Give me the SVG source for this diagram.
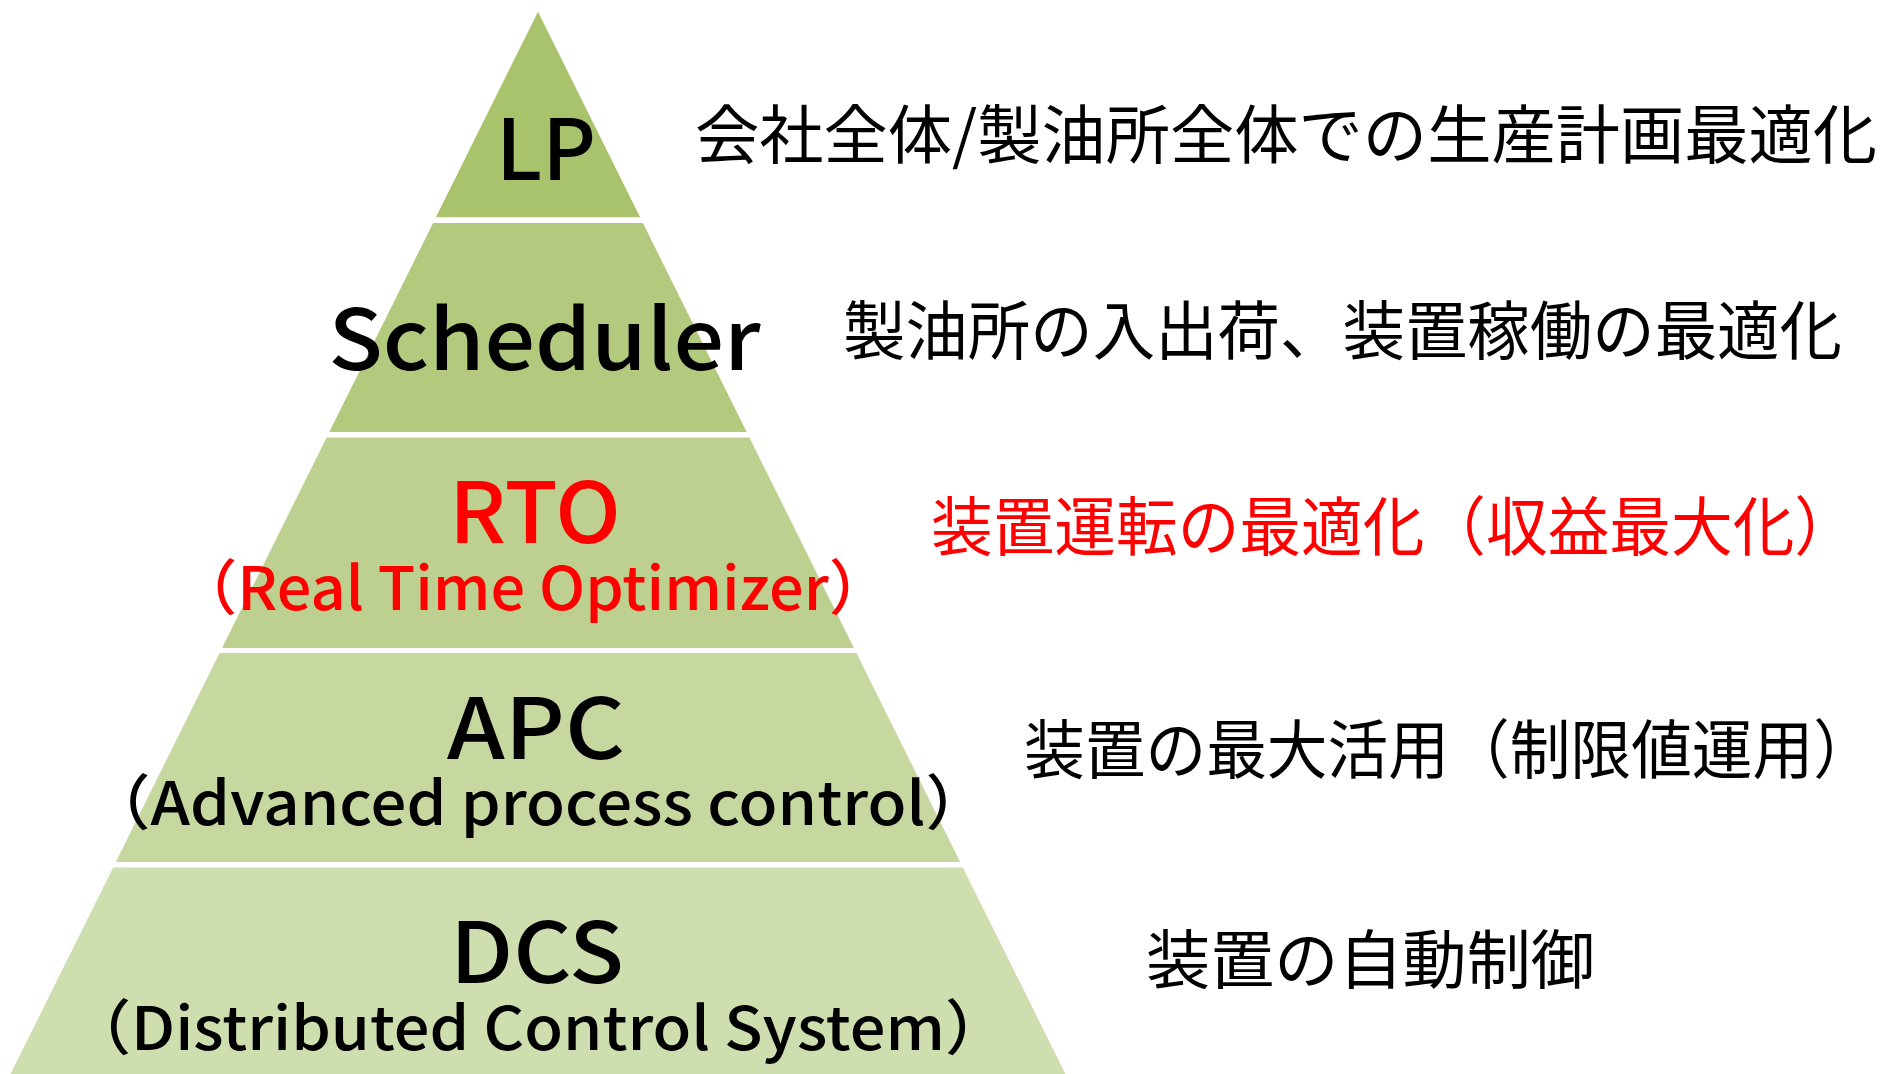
<svg xmlns="http://www.w3.org/2000/svg" width="1885" height="1074" viewBox="0 0 1885 1074">
<style>
.t{font-family:"Noto Sans CJK JP","Noto Sans",sans-serif;fill:#000}
.title{font-size:84px;text-anchor:middle;font-weight:500}
.sub{font-size:60px;text-anchor:middle;font-weight:500}
.desc{font-size:64px}
.red{fill:#FF0000}
</style>
<rect width="1885" height="1074" fill="#FFFFFF"/>
<g id="lp">
<polygon points="538,11.7 640.1,217.3 435.9,217.3" fill="#A9C26C"/>
<text class="t title" x="546" y="180" textLength="100" lengthAdjust="spacingAndGlyphs">LP</text>
<text class="t desc" x="695" y="158" textLength="1182" lengthAdjust="spacingAndGlyphs">会社全体/製油所全体での生産計画最適化</text>
</g>
<g id="scheduler">
<polygon points="433.1,223 642.9,223 746.7,432 329.3,432" fill="#B2C97E"/>
<text class="t title" x="544.5" y="370" textLength="432" lengthAdjust="spacingAndGlyphs">Scheduler</text>
<text class="t desc" x="843" y="354" textLength="999" lengthAdjust="spacingAndGlyphs">製油所の入出荷、装置稼働の最適化</text>
</g>
<g id="rto">
<polygon points="326.6,437.5 749.4,437.5 853.9,648 222.1,648" fill="#BDD08F"/>
<text class="t title red" x="535" y="542.7" textLength="172" lengthAdjust="spacingAndGlyphs">RTO</text>
<text class="t sub red" x="533" y="610" textLength="714" lengthAdjust="spacingAndGlyphs">（Real Time Optimizer）</text>
<text class="t desc red" x="931" y="550" textLength="925" lengthAdjust="spacingAndGlyphs">装置運転の最適化（収益最大化）</text>
</g>
<g id="apc">
<polygon points="219.6,653 856.4,653 960.2,862 115.8,862" fill="#C6D79F"/>
<text class="t title" x="536" y="759" textLength="178" lengthAdjust="spacingAndGlyphs">APC</text>
<text class="t sub" x="538" y="825" textLength="902" lengthAdjust="spacingAndGlyphs">（Advanced process control）</text>
<text class="t desc" x="1024" y="773" textLength="850" lengthAdjust="spacingAndGlyphs">装置の最大活用（制限値運用）</text>
</g>
<g id="dcs">
<polygon points="113.1,867.5 962.9,867.5 1065.5,1074 10.5,1074" fill="#CFDEAF"/>
<text class="t title" x="537" y="983" textLength="174" lengthAdjust="spacingAndGlyphs">DCS</text>
<text class="t sub" x="538" y="1050" textLength="940" lengthAdjust="spacingAndGlyphs">（Distributed Control System）</text>
<text class="t desc" x="1146" y="983" textLength="449" lengthAdjust="spacingAndGlyphs">装置の自動制御</text>
</g>
<g id="connectors"></g>
</svg>
